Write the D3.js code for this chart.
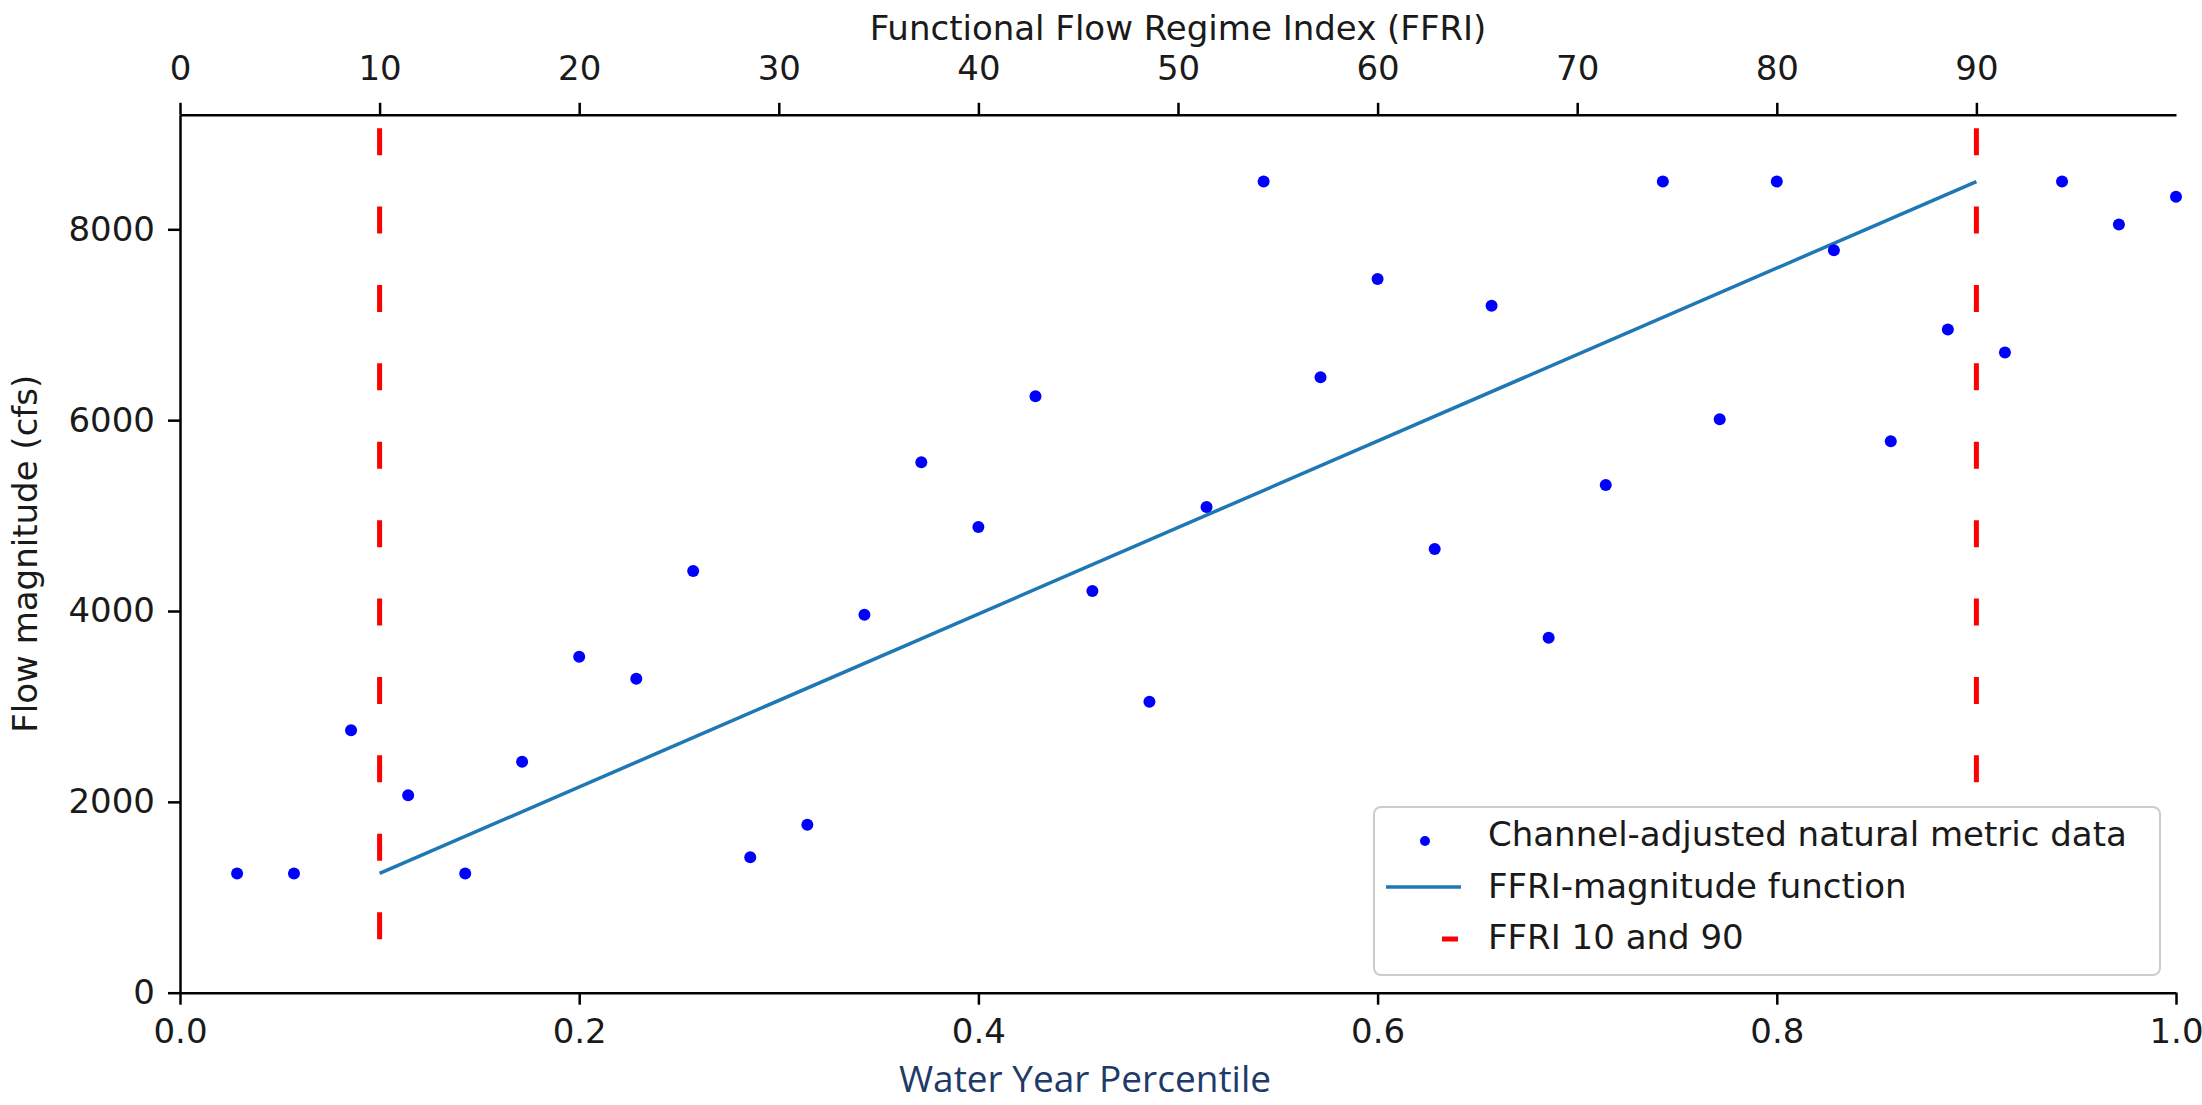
<!DOCTYPE html>
<html>
<head>
<meta charset="utf-8">
<script src="https://cdn.jsdelivr.net/npm/d3@7"></script>
<style>
    html, body { margin: 0; padding: 0; background: #ffffff; }
    svg { display: block; }
</style>
</head>
<body>
<div id="chart"></div>
<script>
// Datos: percentil del año hidrológico y magnitud de caudal (cfs)
const percentile = [0.0286, 0.0571, 0.0857, 0.1143, 0.1429, 0.1714, 0.2000, 0.2286, 0.2571, 0.2857,
    0.3143, 0.3429, 0.3714, 0.4000, 0.4286, 0.4571, 0.4857, 0.5143, 0.5429, 0.5714,
    0.6000, 0.6286, 0.6571, 0.6857, 0.7143, 0.7429, 0.7714, 0.8000, 0.8286, 0.8571,
    0.8857, 0.9143, 0.9429, 0.9714, 1.0000];
const flow = [1250, 1250, 2750, 2070, 1250, 2420, 3520, 3290, 4420, 1420,
    1760, 3960, 5560, 4880, 6250, 4210, 3050, 5090, 8500, 6450,
    7480, 4650, 7200, 3720, 5320, 8500, 6010, 8500, 7780, 5780,
    6950, 6710, 8500, 8050, 8340];

// Función FFRI-magnitud (recta entre FFRI 10 y 90)
const functionX = [0.1, 0.9];
const functionY = [1250, 8500];

// Líneas verticales FFRI 10 y 90
const ffriLines = [0.1, 0.9];
const ffriLineRange = [560, 9060];

// Etiquetas de los ejes
const xTicks = [0, 0.2, 0.4, 0.6, 0.8, 1.0];
const yTicks = [0, 2000, 4000, 6000, 8000];
const ffriTicks = [0, 10, 20, 30, 40, 50, 60, 70, 80, 90];
const legendLabels = ['Channel-adjusted natural metric data', 'FFRI-magnitude function', 'FFRI 10 and 90'];

const width = 2202;
const height = 1105;
const margin = { top: 114.8, right: 26, bottom: 112.3, left: 180 };
const font = '"DejaVu Sans", sans-serif';

const svg = d3.select('#chart')
    .append('svg')
    .attr('width', width)
    .attr('height', height);

svg.append('rect').attr('width', width).attr('height', height).attr('fill', '#ffffff');

// Escalas
const x = d3.scaleLinear()
    .domain([0, 1])
    .range([margin.left, width - margin.right]);
const xTop = d3.scaleLinear()
    .domain([0, 100])
    .range([margin.left, width - margin.right]);
const y = d3.scaleLinear()
    .domain([0, 9200])
    .range([height - margin.bottom, margin.top]);

// Estilo común de ejes
function styleAxis(g) {
    g.select('.domain').attr('stroke', '#000').attr('stroke-width', 2.5);
    g.selectAll('.tick line').attr('stroke', '#000').attr('stroke-width', 2.5);
    g.selectAll('.tick text')
        .attr('fill', '#1a1a1a')
        .style('font-family', font)
        .style('font-size', '34px');
}

svg.append('g')
    .attr('transform', `translate(0,${y(0)})`)
    .call(d3.axisBottom(x).tickValues(xTicks).tickFormat(d3.format('.1f')).tickSize(12).tickSizeOuter(0).tickPadding(14))
    .call(styleAxis);

svg.append('g')
    .attr('transform', `translate(${margin.left},0)`)
    .call(d3.axisLeft(y).tickValues(yTicks).tickFormat(d3.format('d')).tickSize(12).tickSizeOuter(0).tickPadding(13))
    .call(styleAxis);

svg.append('g')
    .attr('transform', `translate(0,${y(9200)})`)
    .call(d3.axisTop(xTop).tickValues(ffriTicks).tickFormat(d3.format('d')).tickSize(12).tickSizeOuter(0).tickPadding(23))
    .call(styleAxis);

// Títulos de ejes
svg.append('text')
    .attr('x', x(0.5))
    .attr('y', 40)
    .attr('text-anchor', 'middle')
    .attr('fill', '#1a1a1a')
    .style('font-family', font)
    .style('font-size', '34px')
    .text('Functional Flow Regime Index (FFRI)');

svg.append('text')
    .attr('transform', `translate(37,${(y(0) + y(9200)) / 2}) rotate(-90)`)
    .attr('text-anchor', 'middle')
    .attr('fill', '#1a1a1a')
    .style('font-family', font)
    .style('font-size', '34px')
    .text('Flow magnitude (cfs)');

svg.append('text')
    .attr('x', 1085)
    .attr('y', 1092)
    .attr('text-anchor', 'middle')
    .attr('fill', '#1f3a68')
    .style('font-family', '"Open Sans", Lato, sans-serif')
    .style('font-size', '37px')
    .text('Water Year Percentile');

// Líneas verticales discontinuas
svg.selectAll('.ffri-line')
    .data(ffriLines)
    .enter()
    .append('line')
    .attr('class', 'ffri-line')
    .attr('x1', d => x(d))
    .attr('x2', d => x(d))
    .attr('y1', y(ffriLineRange[1]))
    .attr('y2', y(ffriLineRange[0]))
    .attr('stroke', '#ff0000')
    .attr('stroke-width', 5)
    .attr('stroke-dasharray', '27 51.4');

// Recta de la función
const line = d3.line()
    .x(d => x(d[0]))
    .y(d => y(d[1]));

svg.append('path')
    .datum(d3.zip(functionX, functionY))
    .attr('fill', 'none')
    .attr('stroke', '#1f77b4')
    .attr('stroke-width', 3.5)
    .attr('d', line);

// Puntos de datos
svg.selectAll('.dot')
    .data(d3.zip(percentile, flow))
    .enter()
    .append('circle')
    .attr('class', 'dot')
    .attr('cx', d => x(d[0]))
    .attr('cy', d => y(d[1]))
    .attr('r', 6)
    .attr('fill', '#0000ff');

// Leyenda
const legend = svg.append('g').attr('transform', 'translate(1374,807)');

legend.append('rect')
    .attr('width', 786)
    .attr('height', 168)
    .attr('rx', 7)
    .attr('fill', '#ffffff')
    .attr('stroke', '#cccccc')
    .attr('stroke-width', 2);

legend.append('circle')
    .attr('cx', 51)
    .attr('cy', 34)
    .attr('r', 5)
    .attr('fill', '#0000ff');

legend.append('line')
    .attr('x1', 12).attr('x2', 87)
    .attr('y1', 80).attr('y2', 80)
    .attr('stroke', '#1f77b4')
    .attr('stroke-width', 3.5);

legend.append('line')
    .attr('x1', 68).attr('x2', 84)
    .attr('y1', 132).attr('y2', 132)
    .attr('stroke', '#ff0000')
    .attr('stroke-width', 5);

legend.selectAll('.legend-label')
    .data(legendLabels)
    .enter()
    .append('text')
    .attr('class', 'legend-label')
    .attr('x', 114)
    .attr('y', (d, i) => 39 + i * 51.5)
    .attr('fill', '#1a1a1a')
    .style('font-family', font)
    .style('font-size', '34px')
    .text(d => d);
</script>
</body>
</html>
